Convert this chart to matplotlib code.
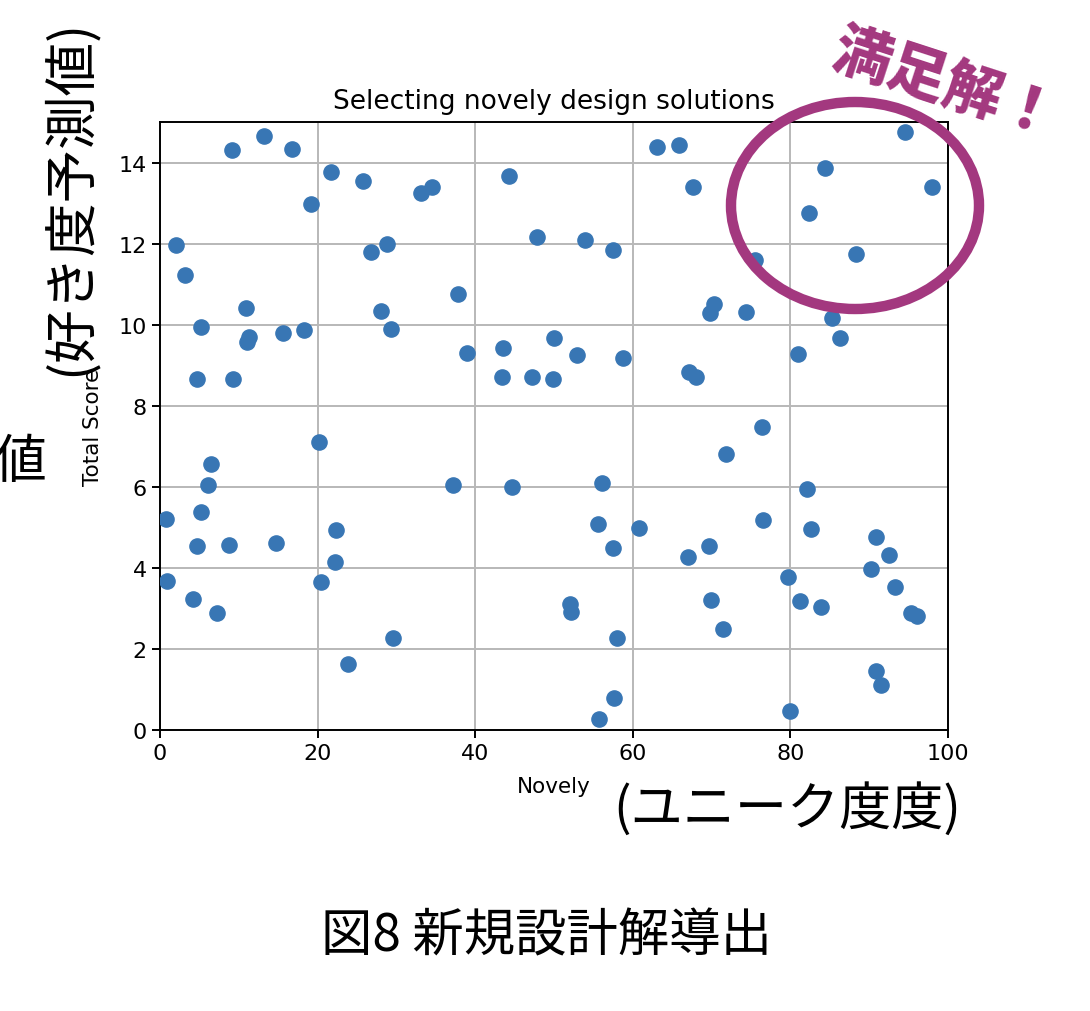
import matplotlib
matplotlib.use("Agg")
import matplotlib.pyplot as plt
from matplotlib.patches import Ellipse

# ---------------- data ----------------
novely = [
    9.14, 13.19, 16.70, 19.21, 21.76, 25.71, 33.14, 34.51, 44.26, 47.82,
    2.02, 3.21, 26.81, 28.75, 10.86, 11.08, 11.25, 5.19, 15.60, 18.24,
    28.04, 29.27, 37.85, 38.95, 4.66, 9.23, 43.47, 43.38, 47.16,
    20.13, 6.46, 6.07, 5.19, 0.79, 4.70, 8.79, 14.77, 22.29, 22.15,
    20.44, 0.84, 4.22, 7.21, 29.63, 23.82, 37.19, 44.66,
    76.42, 71.81, 56.15, 82.08, 55.58, 60.80, 76.55, 82.65, 57.48, 67.04,
    69.69, 90.80, 92.52, 90.18, 79.73, 93.23, 52.04, 52.12, 69.87, 81.24,
    83.85, 95.27, 96.11, 71.46, 58.01, 90.89, 91.46, 57.61, 55.66, 79.96,
    63.01, 65.84, 67.65, 94.55, 84.42, 98.01, 82.30, 53.98, 57.43, 75.49,
    88.27, 70.27, 69.82, 74.38, 85.31, 86.24, 50.04, 52.92, 58.76, 81.02,
    49.87, 67.17, 67.96,
]
total_score = [
    14.32, 14.65, 14.34, 12.98, 13.77, 13.55, 13.25, 13.39, 13.67, 12.16,
    11.97, 11.22, 11.80, 12.00, 10.40, 9.58, 9.69, 9.94, 9.79, 9.87,
    10.33, 9.89, 10.75, 9.30, 8.67, 8.66, 9.42, 8.71, 8.71,
    7.10, 6.56, 6.04, 5.37, 5.20, 4.54, 4.57, 4.61, 4.93, 4.14,
    3.65, 3.67, 3.23, 2.88, 2.28, 1.63, 6.05, 6.00,
    7.48, 6.81, 6.09, 5.95, 5.09, 4.99, 5.19, 4.95, 4.49, 4.28,
    4.54, 4.75, 4.31, 3.98, 3.77, 3.53, 3.12, 2.91, 3.21, 3.19,
    3.04, 2.89, 2.81, 2.50, 2.28, 1.45, 1.11, 0.80, 0.27, 0.48,
    14.38, 14.44, 13.40, 14.76, 13.87, 13.40, 12.76, 12.10, 11.84, 11.60,
    11.74, 10.52, 10.30, 10.32, 10.16, 9.67, 9.68, 9.25, 9.17, 9.28,
    8.66, 8.83, 8.70,
]
x_ticks = [0, 20, 40, 60, 80, 100]
y_ticks = [0, 2, 4, 6, 8, 10, 12, 14]

title = "Selecting novely design solutions"
x_label = "Novely"
y_label = "Total Score"
jp_y = "(好き度予測値)"
jp_x = "(ユニーク度度)"
jp_caption = "図8 新規設計解導出"
jp_note = "満足解！"
jp_cut = "値"

# ---------------- figure ----------------
W, H = 1090, 1012
fig = plt.figure(figsize=(W / 100, H / 100), dpi=100)
plt.rcParams['font.family'] = ['DejaVu Sans', 'Noto Sans CJK JP']
JP = ['Noto Sans CJK JP', 'DejaVu Sans']

def fx(px):
    return px / W

def fy(py):
    return 1 - py / H

ax = fig.add_axes([fx(160), fy(731), (948 - 160) / W, (731 - 123) / H])
ax.scatter(novely, total_score, s=120, color='#3876b4', zorder=3)
ax.set_xlim(0, 100)
ax.set_ylim(0, 15)
ax.set_xticks(x_ticks)
ax.set_yticks(y_ticks)
ax.grid(True, color='#b8b8b8', linewidth=1.4)
ax.set_axisbelow(True)
for sp in ax.spines.values():
    sp.set_linewidth(1.4)
ax.tick_params(labelsize=16, width=1.4, length=6)
ax.set_title(title, fontsize=19, pad=10)
ax.set_xlabel(x_label, fontsize=15.5)
ax.set_ylabel(y_label, fontsize=15.5)
ax.xaxis.set_label_coords(0.5, -0.076)
ax.yaxis.set_label_coords(-0.072, 0.5)

# Japanese annotations
fig.text(fx(70), fy(197), jp_y, rotation=90, fontsize=38.5, family=JP,
         ha='center', va='center')
fig.text(fx(46), fy(463), jp_cut, fontsize=38, family=JP,
         ha='right', va='center')
fig.text(fx(787), fy(810), jp_x, fontsize=37.5, family=JP,
         ha='center', va='center')
fig.text(fx(547), fy(937), jp_caption, fontsize=37, family=JP,
         ha='center', va='center')
fig.text(fx(945), fy(86), jp_note, fontsize=42, family=JP, fontweight='black',
         color='#a3387f', rotation=-18, ha='center', va='center',
         rotation_mode='anchor')

ell = Ellipse((fx(855), fy(206.5)), 248 / W, 207 / H, transform=fig.transFigure,
              fill=False, edgecolor='#a3387f', linewidth=7.5, zorder=10)
fig.add_artist(ell)

fig.savefig("out.png", dpi=100)
